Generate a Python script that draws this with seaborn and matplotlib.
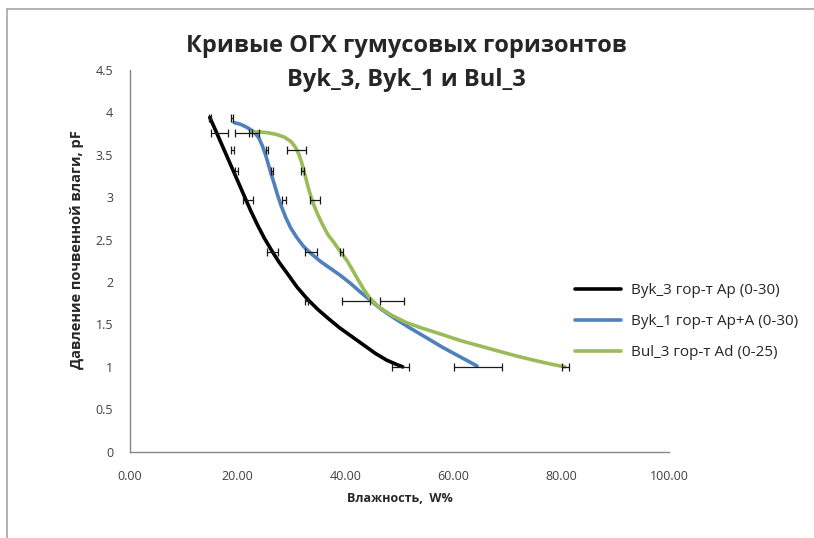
import numpy as np
import pandas as pd
import seaborn as sns
import matplotlib
matplotlib.use("Agg")
import matplotlib.pyplot as plt
from matplotlib.lines import Line2D
from matplotlib.ticker import FuncFormatter, MultipleLocator

# traced curves (moisture W%, pF)
byk3_w = [14.8, 15.8, 16.9, 18.0, 19.1, 20.2, 21.3, 22.4, 23.6, 24.9, 26.3, 27.7, 29.2, 31.0,
          32.9, 34.8, 36.8, 38.9, 41.1, 43.3, 45.5, 47.6, 49.4, 50.6]
byk3_pf = [3.94, 3.80, 3.64, 3.48, 3.32, 3.16, 3.00, 2.84, 2.68, 2.52, 2.37, 2.23, 2.10, 1.94,
           1.80, 1.68, 1.57, 1.46, 1.36, 1.26, 1.16, 1.08, 1.03, 1.00]

byk1_w = [19.3, 20.5, 21.8, 23.0, 23.9, 24.6, 25.2, 25.7, 26.2, 26.8, 27.4, 28.1, 28.9, 29.8,
          30.9, 32.2, 33.7, 35.4, 37.2, 39.0, 40.8, 42.6, 44.5, 46.6, 48.9, 51.9, 55.1, 58.0,
          61.2, 64.4]
byk1_pf = [3.88, 3.86, 3.82, 3.77, 3.70, 3.60, 3.49, 3.38, 3.27, 3.15, 3.02, 2.89, 2.76, 2.64,
           2.53, 2.42, 2.33, 2.24, 2.16, 2.08, 1.99, 1.89, 1.79, 1.68, 1.58, 1.46, 1.34, 1.23,
           1.12, 1.01]

bul3_w = [22.4, 24.0, 25.6, 27.2, 28.6, 29.8, 30.7, 31.3, 31.8, 32.2, 32.6, 33.0, 33.5, 34.1,
          34.8, 35.7, 36.7, 37.8, 39.0, 40.3, 41.3, 42.2, 43.3, 44.5, 46.3, 48.5, 51.0, 54.0,
          57.5, 61.3, 65.0, 68.7, 72.2, 75.5, 78.3, 80.7]
bul3_pf = [3.77, 3.77, 3.76, 3.74, 3.71, 3.66, 3.59, 3.51, 3.42, 3.33, 3.23, 3.13, 3.02, 2.91,
           2.80, 2.68, 2.56, 2.47, 2.36, 2.25, 2.14, 2.04, 1.92, 1.81, 1.70, 1.61, 1.53, 1.46,
           1.39, 1.31, 1.245, 1.18, 1.12, 1.07, 1.03, 1.00]

# error bars: pF level, centre W, half width
byk3_err_pf = [3.94, 3.76, 3.56, 3.31, 2.97, 2.36, 1.78, 1.00]
byk3_err_w = [14.8, 16.6, 19.0, 19.8, 21.9, 26.4, 32.8, 50.2]
byk3_err = [0.2, 1.5, 0.3, 0.3, 1.0, 1.0, 0.3, 1.6]

byk1_err_pf = [3.94, 3.76, 3.56, 3.31, 2.97, 2.36, 1.78, 1.00]
byk1_err_w = [18.9, 21.7, 25.4, 26.3, 28.6, 33.6, 41.9, 64.6]
byk1_err = [0.2, 2.2, 0.2, 0.2, 0.4, 1.1, 2.6, 4.5]

bul3_err_pf = [3.76, 3.56, 3.31, 2.97, 2.36, 1.78, 1.00]
bul3_err_w = [22.4, 30.9, 32.0, 34.3, 39.2, 48.6, 80.8]
bul3_err = [0.3, 1.7, 0.3, 0.9, 0.3, 2.3, 0.7]

labels = ["Byk_3 гор-т Ap (0-30)", "Byk_1 гор-т Ap+A (0-30)", "Bul_3 гор-т Ad (0-25)"]
colors = ["#000000", "#4F81BD", "#9BBB59"]

df = pd.concat([
    pd.DataFrame({"W": byk3_w, "pF": byk3_pf, "series": labels[0]}),
    pd.DataFrame({"W": byk1_w, "pF": byk1_pf, "series": labels[1]}),
    pd.DataFrame({"W": bul3_w, "pF": bul3_pf, "series": labels[2]}),
])

sns.set_style("white")
plt.rcParams["font.family"] = ["Open Sans", "DejaVu Sans"]

fig = plt.figure(figsize=(8.14, 5.38), dpi=100)
ax = fig.add_axes([130 / 814, 1 - 451.7 / 538, 539 / 814, 381.7 / 538])

sns.lineplot(data=df, x="W", y="pF", hue="series", palette=colors, sort=False,
             estimator=None, linewidth=2.6, ax=ax)
for line in ax.lines:
    line.set_solid_joinstyle("round")
    line.set_solid_capstyle("round")

for ew, epf, ee in [(byk3_err_w, byk3_err_pf, byk3_err),
                    (byk1_err_w, byk1_err_pf, byk1_err),
                    (bul3_err_w, bul3_err_pf, bul3_err)]:
    ax.errorbar(ew, epf, xerr=ee, fmt="none", ecolor="#1a1a1a",
                elinewidth=0.9, capsize=3, capthick=0.9, zorder=5)

ax.set_xlim(0, 100)
ax.set_ylim(0, 4.5)
ax.xaxis.set_major_locator(MultipleLocator(20))
ax.yaxis.set_major_locator(MultipleLocator(0.5))
ax.xaxis.set_major_formatter(FuncFormatter(lambda v, p: f"{v:.2f}"))
ax.yaxis.set_major_formatter(FuncFormatter(lambda v, p: f"{v:g}"))
ax.tick_params(axis="both", length=0, labelsize=9, colors="#404040")
ax.tick_params(axis="x", pad=13)
ax.tick_params(axis="y", pad=12)

for s in ["top", "right"]:
    ax.spines[s].set_visible(False)
for s in ["left", "bottom"]:
    ax.spines[s].set_color("#868686")
    ax.spines[s].set_linewidth(1)

ax.set_xlabel("Влажность,  W%", fontsize=9, fontweight="bold")
ax.set_ylabel("Давление почвенной влаги, pF", fontsize=10.5, fontweight="bold")
ax.xaxis.set_label_coords(0.5, -0.105)
ax.yaxis.set_label_coords(-0.085, 0.53)

ax.legend(loc="upper left", bbox_to_anchor=(575 / 814, 1 - 283 / 538),
          bbox_transform=fig.transFigure, frameon=False, fontsize=11,
          handlelength=3.0, handletextpad=0.65, labelspacing=1.05,
          borderpad=0, borderaxespad=0, title=None)

fig.text(0.499, 1 - 63 / 538, "Кривые ОГХ гумусовых горизонтов\nByk_3, Byk_1 и Bul_3",
         ha="center", va="center", fontsize=17, fontweight="bold", linespacing=1.6)

# chart area border (top and left edges visible)
fig.add_artist(Line2D([7 / 814, 1], [1 - 9 / 538, 1 - 9 / 538], transform=fig.transFigure,
                      color="#a6a6a6", linewidth=1.2))
fig.add_artist(Line2D([7 / 814, 7 / 814], [0, 1 - 9 / 538], transform=fig.transFigure,
                      color="#a6a6a6", linewidth=1.2))

fig.savefig("out.png", dpi=100)
